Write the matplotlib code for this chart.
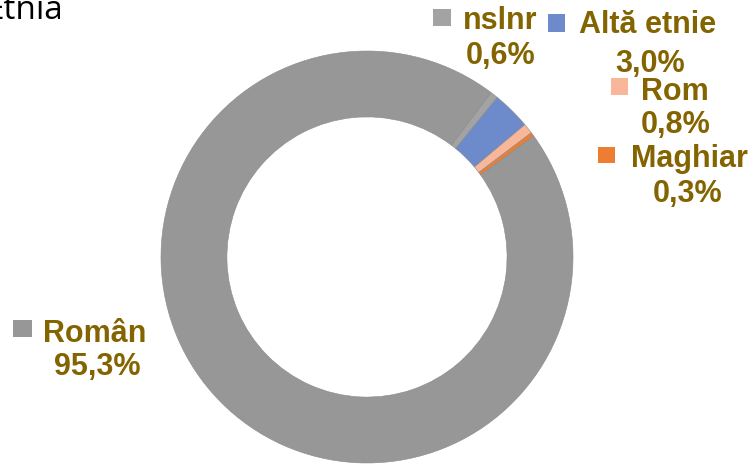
import matplotlib.pyplot as plt
from matplotlib.patches import Rectangle

# data
labels = ['Român', 'nslnr', 'Altă etnie', 'Rom', 'Maghiar']
values = [95.3, 0.6, 3.0, 0.8, 0.3]
colors = ['#979797', '#a3a3a3', '#6d8bca', '#f8b69b', '#ed7d31']

# label layout in pixels (name center x, name baseline, pct center x, pct baseline, marker box)
W, H = 753, 465
label_pos = {
    'Român': (95, 342, 97, 375, (13, 320, 32, 337)),
    'nslnr': (500, 29, 501, 64, (433, 9, 451, 26)),
    'Altă etnie': (648, 33, 650, 72, (548, 14, 565, 32)),
    'Rom': (675, 100, 676, 133, (611, 78, 628, 95)),
    'Maghiar': (689, 167, 688, 202, (598, 147, 615, 163)),
}
text_color = '#846400'


def fx(x):
    return x / W


def fy(y):
    return 1 - y / H


fig = plt.figure(figsize=(W / 100, H / 100), dpi=100)

# donut: center (367, 257), outer radius 206 px
cx, cy, r = 367, 257, 206
ax = fig.add_axes([fx(cx - r), fy(cy + r), 2 * r / W, 2 * r / H])
ax.pie(values, colors=colors, startangle=36, counterclock=False, radius=1,
       wedgeprops=dict(width=0.32, edgecolor='#8a8a8a', linewidth=0.4))
ax.set_xlim(-1, 1)
ax.set_ylim(-1, 1)
ax.axis('off')

for name, val, col in zip(labels, values, colors):
    nx, ny, px, py, (x0, y0, x1, y1) = label_pos[name]
    fig.text(fx(nx), fy(ny), name, ha='center', va='baseline', fontsize=22,
             fontweight='bold', family='Liberation Sans', color=text_color)
    pct = f'{val:.1f}%'.replace('.', ',')
    fig.text(fx(px), fy(py), pct, ha='center', va='baseline', fontsize=22,
             fontweight='bold', family='Liberation Sans', color=text_color)
    fig.patches.append(Rectangle((fx(x0), fy(y1)), fx(x1 - x0), (y1 - y0) / H,
                                 transform=fig.transFigure, facecolor=col,
                                 edgecolor='none'))

# title, cut at the top and left edges like the source
fig.text(fx(64), fy(19), 'Etnia', ha='right', va='baseline', fontsize=24,
         family='Open Sans', color='black')

fig.savefig('out.png', dpi=100)
